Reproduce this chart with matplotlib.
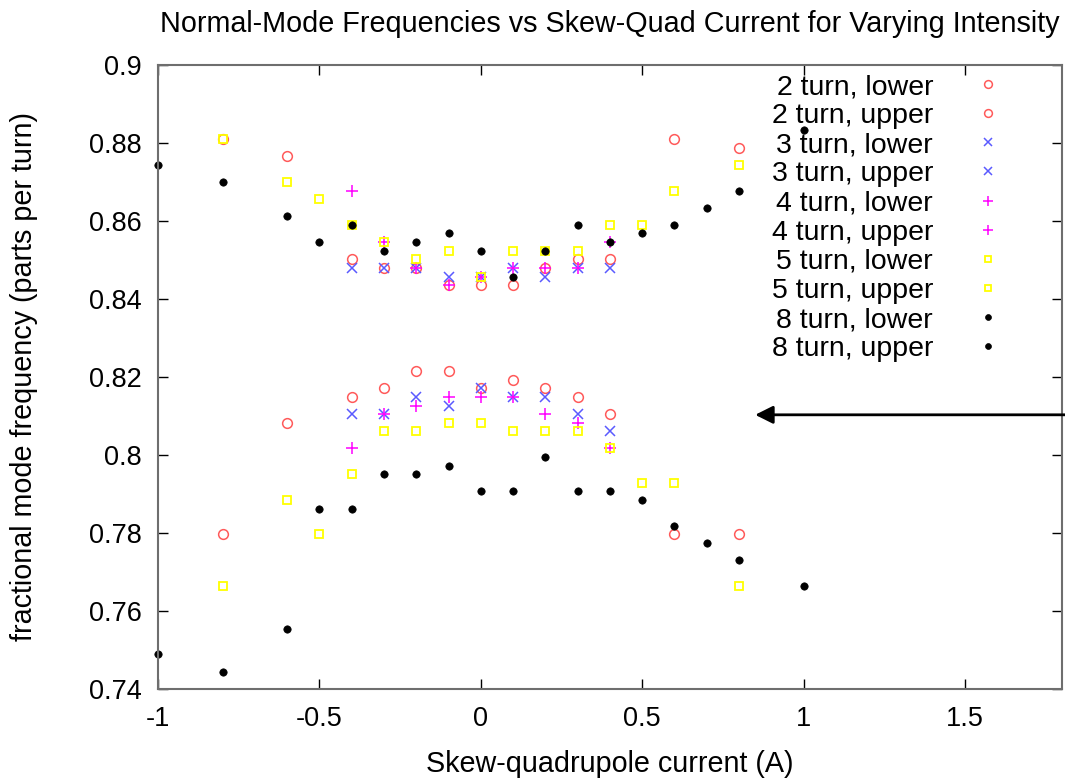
"""
Normal-mode frequencies vs skew-quad current, several beam intensities.
"""

import matplotlib
matplotlib.use("Agg")
import matplotlib.pyplot as plt

plt.rcParams["font.family"] = ["Liberation Sans", "DejaVu Sans"]

# ---------------------------------------------------------------------------
# Data
# ---------------------------------------------------------------------------
two_x = [-0.8, -0.6, -0.4, -0.3, -0.2, -0.1, 0.0, 0.1, 0.2, 0.3, 0.4, 0.6, 0.8]
two_lower = [0.7797, 0.8083, 0.8149, 0.8171, 0.8215, 0.8215, 0.8171,
             0.8193, 0.8171, 0.8149, 0.8105, 0.7797, 0.7797]
two_upper = [0.8810, 0.8766, 0.8502, 0.8480, 0.8480, 0.8435, 0.8435,
             0.8435, 0.8480, 0.8502, 0.8502, 0.8810, 0.8788]

three_x = [-0.4, -0.3, -0.2, -0.1, 0.0, 0.1, 0.2, 0.3, 0.4]
three_lower = [0.8104, 0.8104, 0.8149, 0.8126, 0.8171, 0.8149, 0.8149, 0.8104, 0.8061]
three_upper = [0.8480, 0.8480, 0.8480, 0.8457, 0.8457, 0.8480, 0.8457, 0.8480, 0.8480]

four_x = [-0.4, -0.3, -0.2, -0.1, 0.0, 0.1, 0.2, 0.3, 0.4]
four_lower = [0.8018, 0.8104, 0.8126, 0.8149, 0.8149, 0.8149, 0.8104, 0.8083, 0.8017]
four_upper = [0.8677, 0.8546, 0.8480, 0.8435, 0.8457, 0.8480, 0.8480, 0.8480, 0.8546]

five_x = [-0.8, -0.6, -0.5, -0.4, -0.3, -0.2, -0.1, 0.0, 0.1, 0.2, 0.3, 0.4, 0.5, 0.6, 0.8]
five_lower = [0.7665, 0.7885, 0.7797, 0.7951, 0.8061, 0.8061, 0.8083, 0.8083,
              0.8061, 0.8061, 0.8061, 0.8017, 0.7929, 0.7929, 0.7665]
five_upper = [0.8810, 0.8700, 0.8656, 0.8590, 0.8546, 0.8502, 0.8523, 0.8457,
              0.8523, 0.8524, 0.8523, 0.8590, 0.8590, 0.8678, 0.8744]

eight_x = [-1.0, -0.8, -0.6, -0.5, -0.4, -0.3, -0.2, -0.1, 0.0, 0.1, 0.2,
           0.3, 0.4, 0.5, 0.6, 0.7, 0.8, 1.0]
eight_lower = [0.7489, 0.7444, 0.7555, 0.7862, 0.7862, 0.7951, 0.7951, 0.7973,
               0.7907, 0.7907, 0.7995, 0.7907, 0.7907, 0.7885, 0.7819, 0.7775,
               0.7731, 0.7665]
eight_upper = [0.8744, 0.8700, 0.8612, 0.8546, 0.8590, 0.8523, 0.8546, 0.8568,
               0.8524, 0.8457, 0.8524, 0.8590, 0.8546, 0.8568, 0.8590, 0.8634,
               0.8678, 0.8833]

arrow_y = 0.8103
x_ticks = [-1, -0.5, 0, 0.5, 1, 1.5]
x_tick_labels = ["-1", "-0.5", "0", "0.5", "1", "1.5"]
y_ticks = [0.74, 0.76, 0.78, 0.80, 0.82, 0.84, 0.86, 0.88, 0.90]
y_tick_labels = ["0.74", "0.76", "0.78", "0.8", "0.82", "0.84", "0.86", "0.88", "0.9"]

# ---------------------------------------------------------------------------
# Figure
# ---------------------------------------------------------------------------
fig = plt.figure(figsize=(10.65, 7.78), dpi=100)
ax = fig.add_axes([0.1484, 0.1144, 0.8486, 0.8021])

red = "#ff5a5a"
blue = "#5a5aff"
magenta = "#ff00ff"
yellow = "#ffff00"

series = [
    (two_x, two_lower, "2 turn, lower", dict(marker="o", ms=7, mfc="none", mec=red, mew=1.1)),
    (two_x, two_upper, "2 turn, upper", dict(marker="o", ms=7, mfc="none", mec=red, mew=1.1)),
    (three_x, three_lower, "3 turn, lower", dict(marker="x", ms=6.5, mec=blue, mew=1.1)),
    (three_x, three_upper, "3 turn, upper", dict(marker="x", ms=6.5, mec=blue, mew=1.1)),
    (four_x, four_lower, "4 turn, lower", dict(marker="+", ms=9, mec=magenta, mew=1.1)),
    (four_x, four_upper, "4 turn, upper", dict(marker="+", ms=9, mec=magenta, mew=1.1)),
    (five_x, five_lower, "5 turn, lower", dict(marker="s", ms=6.2, mfc="none", mec=yellow, mew=1.3)),
    (five_x, five_upper, "5 turn, upper", dict(marker="s", ms=6.2, mfc="none", mec=yellow, mew=1.3)),
    (eight_x, eight_lower, "8 turn, lower", dict(marker="o", ms=5.3, mfc="black", mec="black", mew=0.5)),
    (eight_x, eight_upper, "8 turn, upper", dict(marker="o", ms=5.3, mfc="black", mec="black", mew=0.5)),
]

for xs, ys, label, style in series:
    ax.plot(xs, ys, linestyle="none", label=label, clip_on=False, **style)

ax.set_xlim(-1, 1.8)
ax.set_ylim(0.74, 0.9)
ax.set_xticks(x_ticks)
ax.set_xticklabels(x_tick_labels)
ax.set_yticks(y_ticks)
ax.set_yticklabels(y_tick_labels)
ax.tick_params(direction="in", length=7, width=1, top=True, right=True,
               labelsize=19.5, pad=12, color="black")

for spine in ax.spines.values():
    spine.set_color("#6e6e6e")
    spine.set_linewidth(1.5)

ax.set_title("Normal-Mode Frequencies vs Skew-Quad Current for Varying Intensity",
             fontsize=20.7, pad=24)
ax.set_xlabel("Skew-quadrupole current (A)", fontsize=20.7)
ax.set_ylabel("fractional mode frequency (parts per turn)", fontsize=20.7)
ax.xaxis.set_label_coords(0.5, -0.097)
ax.yaxis.set_label_coords(-0.133, 0.5)

# arrow coming in from the right edge
ax.annotate("", xy=(0.85, arrow_y), xytext=(1.0, arrow_y),
            textcoords=("figure fraction", "data"),
            arrowprops=dict(arrowstyle="-|>", color="black", lw=2,
                            mutation_scale=27, shrinkA=0, shrinkB=0),
            annotation_clip=False)

ax.legend(loc="upper right", bbox_to_anchor=(1002 / 1065, 1 - 74 / 778),
          bbox_transform=fig.transFigure, frameon=False, markerfirst=False,
          fontsize=20.5, handlelength=1.0, handletextpad=1.42,
          labelspacing=0.11, borderpad=0, borderaxespad=0, markerscale=0.8)

fig.savefig("out.png", dpi=100)
